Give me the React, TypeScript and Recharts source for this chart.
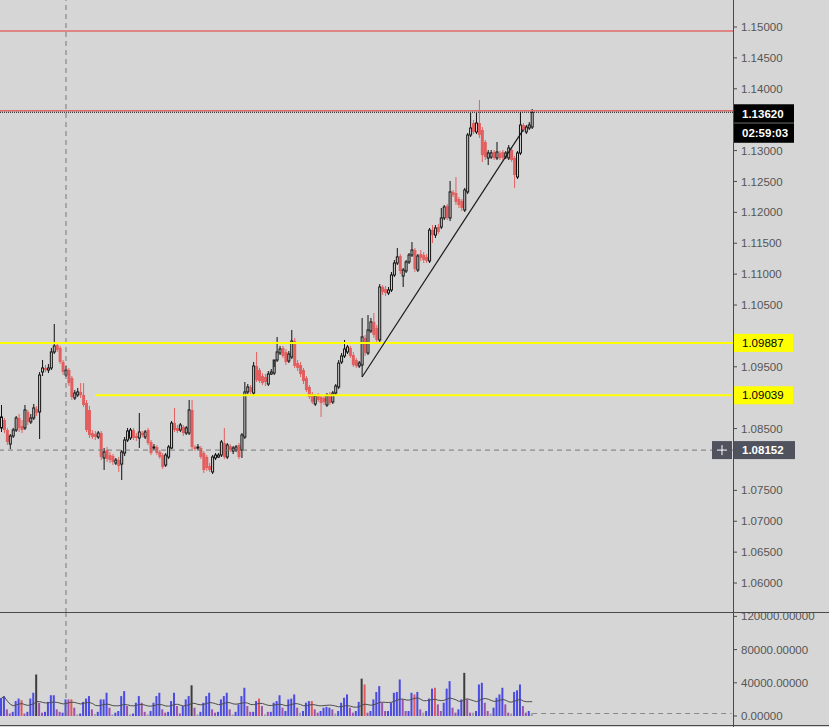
import React from 'react';
import { ComposedChart, Bar, Line, XAxis, YAxis, ReferenceLine, Cell } from 'recharts';

const FONT = '"Liberation Sans", Arial, sans-serif';
const BG = '#d6d6d6';
const UP = '#111111';
const DOWN = '#e35f5f';
const AXIS = '#4a4a4a';

// ---- candle data (4H bars) ----
const opens = [
  1.08510, 1.08639, 1.08477, 1.08250, 1.08380, 1.08477, 1.08672, 1.08542, 1.08510, 1.08769,
  1.08607, 1.08672, 1.08817, 1.08769, 1.09416, 1.09481, 1.09448, 1.09481, 1.09740, 1.09853,
  1.09805, 1.09578, 1.09367, 1.09448, 1.09319, 1.08996, 1.09044, 1.09093, 1.09044, 1.08914,
  1.08801, 1.08428, 1.08412, 1.08364, 1.08428, 1.08024, 1.08153, 1.08072, 1.08056, 1.07942,
  1.07991, 1.07926, 1.08104, 1.08315, 1.08348, 1.08477, 1.08380, 1.08348, 1.08428, 1.08364,
  1.08477, 1.08283, 1.08186, 1.08202, 1.08121, 1.08072, 1.07910, 1.08040, 1.08186, 1.08590,
  1.08510, 1.08477, 1.08526, 1.08428, 1.08428, 1.08801, 1.08202, 1.08186, 1.08186, 1.08104,
  1.08040, 1.07894, 1.07798, 1.08024, 1.08040, 1.08072, 1.08266, 1.08040, 1.08218, 1.08137,
  1.08153, 1.08234, 1.08153, 1.08364, 1.09093, 1.09173, 1.09076, 1.09513, 1.09448, 1.09351,
  1.09335, 1.09221, 1.09383, 1.09399, 1.09610, 1.09723, 1.09805, 1.09740, 1.09594, 1.09659,
  1.09918, 1.09561, 1.09529, 1.09448, 1.09319, 1.09173, 1.09060, 1.08898, 1.09044, 1.09012,
  1.08996, 1.08882, 1.09060, 1.08931, 1.09076, 1.09173, 1.09578, 1.09675, 1.09740, 1.09805,
  1.09691, 1.09610, 1.09513, 1.09529, 1.09967, 1.09723, 1.10080, 1.10226, 1.10129, 1.09934,
  1.10792, 1.10759, 1.10694, 1.10743, 1.10986, 1.11180, 1.11294, 1.10970, 1.11051, 1.11197,
  1.11310, 1.11391, 1.11067, 1.11326, 1.11310, 1.11278, 1.11213, 1.11714, 1.11633, 1.11763,
  1.11763, 1.11909, 1.12103, 1.11909, 1.12330, 1.12313, 1.12216, 1.12184, 1.12038, 1.12330,
  1.13252, 1.13446, 1.13301, 1.13446, 1.13333, 1.13139, 1.12880, 1.12896, 1.12977, 1.12880,
  1.12961, 1.12977, 1.12896, 1.12880, 1.13009, 1.12880, 1.12572, 1.12961, 1.13414, 1.13301,
  1.13365, 1.13381,
];
const highs = [
  1.08882, 1.08672, 1.08510, 1.08412, 1.08510, 1.08704, 1.08736, 1.08639, 1.08882, 1.08801,
  1.08736, 1.08898, 1.08866, 1.09416, 1.09610, 1.09529, 1.09545, 1.09805, 1.10193, 1.09902,
  1.09837, 1.09610, 1.09513, 1.09481, 1.09351, 1.09125, 1.09157, 1.09237, 1.09237, 1.08963,
  1.08866, 1.08477, 1.08461, 1.08461, 1.08461, 1.08186, 1.08202, 1.08121, 1.08088, 1.08024,
  1.08040, 1.08153, 1.08364, 1.08510, 1.08510, 1.08510, 1.08428, 1.08752, 1.08461, 1.08477,
  1.08510, 1.08315, 1.08250, 1.08234, 1.08153, 1.08104, 1.08104, 1.08234, 1.08623, 1.08834,
  1.08558, 1.08590, 1.08558, 1.08542, 1.08963, 1.08963, 1.08234, 1.08250, 1.08218, 1.08137,
  1.08072, 1.07942, 1.08072, 1.08104, 1.08104, 1.08315, 1.08510, 1.08266, 1.08250, 1.08218,
  1.08234, 1.08266, 1.08428, 1.09254, 1.09221, 1.09205, 1.09578, 1.09740, 1.09481, 1.09399,
  1.09383, 1.09432, 1.09464, 1.09497, 1.09983, 1.09837, 1.09837, 1.09788, 1.09756, 1.10096,
  1.09967, 1.09610, 1.09578, 1.09481, 1.09351, 1.09205, 1.09093, 1.09060, 1.09076, 1.09044,
  1.09028, 1.09076, 1.09093, 1.09109, 1.09221, 1.09610, 1.09723, 1.09934, 1.09853, 1.09837,
  1.09740, 1.09643, 1.09594, 1.10290, 1.10015, 1.10338, 1.10290, 1.10370, 1.10177, 1.10840,
  1.10824, 1.10808, 1.10792, 1.11035, 1.11229, 1.11423, 1.11326, 1.11100, 1.11229, 1.11342,
  1.11520, 1.11423, 1.11326, 1.11391, 1.11359, 1.11326, 1.11747, 1.11795, 1.11795, 1.11811,
  1.12071, 1.12119, 1.12135, 1.12508, 1.12362, 1.12572, 1.12249, 1.12216, 1.12395, 1.13284,
  1.13608, 1.13495, 1.13608, 1.13818, 1.13381, 1.13171, 1.13009, 1.13009, 1.13009, 1.13139,
  1.12993, 1.13009, 1.12993, 1.13090, 1.13042, 1.12912, 1.12993, 1.13624, 1.13446, 1.13414,
  1.13462, 1.13673,
];
const lows = [
  1.08445, 1.08428, 1.08234, 1.08169, 1.08348, 1.08445, 1.08445, 1.08428, 1.08477, 1.08558,
  1.08574, 1.08639, 1.08704, 1.08331, 1.09351, 1.09416, 1.09399, 1.09448, 1.09707, 1.09740,
  1.09545, 1.09367, 1.09335, 1.09189, 1.08963, 1.08963, 1.09012, 1.08996, 1.08850, 1.08445,
  1.08348, 1.08331, 1.08315, 1.08331, 1.07991, 1.07830, 1.07959, 1.07942, 1.07910, 1.07910,
  1.07798, 1.07668, 1.08056, 1.08283, 1.08315, 1.08315, 1.08299, 1.08186, 1.08364, 1.08331,
  1.08234, 1.08072, 1.08153, 1.08072, 1.08007, 1.07845, 1.07878, 1.08007, 1.08169, 1.08445,
  1.08428, 1.08445, 1.08380, 1.08396, 1.08396, 1.08169, 1.08137, 1.08153, 1.08007, 1.07781,
  1.07814, 1.07798, 1.07765, 1.07991, 1.08024, 1.08040, 1.08007, 1.08007, 1.08121, 1.08088,
  1.08121, 1.08007, 1.08024, 1.08331, 1.09060, 1.09060, 1.09044, 1.09254, 1.09237, 1.09205,
  1.09189, 1.09189, 1.09367, 1.09367, 1.09578, 1.09691, 1.09643, 1.09529, 1.09561, 1.09626,
  1.09481, 1.09432, 1.09335, 1.09221, 1.09093, 1.08979, 1.08898, 1.08866, 1.08931, 1.08688,
  1.08882, 1.08850, 1.08882, 1.08898, 1.09044, 1.09140, 1.09545, 1.09643, 1.09707, 1.09643,
  1.09497, 1.09481, 1.09481, 1.09335, 1.09675, 1.09691, 1.10047, 1.09967, 1.09902, 1.09902,
  1.10662, 1.10646, 1.10662, 1.10711, 1.10954, 1.11148, 1.11002, 1.10792, 1.11018, 1.11164,
  1.11278, 1.11035, 1.11035, 1.11213, 1.11180, 1.11180, 1.11180, 1.11503, 1.11585, 1.11649,
  1.11730, 1.11876, 1.11876, 1.11860, 1.12249, 1.12119, 1.12071, 1.12022, 1.12006, 1.12297,
  1.13220, 1.13268, 1.13268, 1.13203, 1.12815, 1.12847, 1.12766, 1.12863, 1.12847, 1.12847,
  1.12847, 1.12847, 1.12863, 1.12847, 1.12815, 1.12395, 1.12539, 1.12928, 1.13301, 1.13268,
  1.13333, 1.13349,
];
const closes = [
  1.08688, 1.08477, 1.08283, 1.08380, 1.08477, 1.08672, 1.08510, 1.08477, 1.08801, 1.08607,
  1.08672, 1.08834, 1.08752, 1.09367, 1.09481, 1.09448, 1.09481, 1.09740, 1.09837, 1.09772,
  1.09578, 1.09416, 1.09448, 1.09237, 1.09012, 1.09076, 1.09093, 1.09044, 1.08882, 1.08477,
  1.08396, 1.08364, 1.08364, 1.08428, 1.08040, 1.08121, 1.08007, 1.07991, 1.07959, 1.07991,
  1.07894, 1.08121, 1.08315, 1.08461, 1.08477, 1.08348, 1.08348, 1.08445, 1.08396, 1.08445,
  1.08266, 1.08104, 1.08202, 1.08104, 1.08040, 1.07878, 1.08072, 1.08202, 1.08590, 1.08477,
  1.08461, 1.08558, 1.08428, 1.08510, 1.08801, 1.08202, 1.08169, 1.08202, 1.08040, 1.07830,
  1.07862, 1.07830, 1.08040, 1.08072, 1.08072, 1.08283, 1.08040, 1.08234, 1.08153, 1.08186,
  1.08202, 1.08040, 1.08396, 1.09093, 1.09173, 1.09093, 1.09513, 1.09286, 1.09270, 1.09237,
  1.09254, 1.09383, 1.09416, 1.09610, 1.09740, 1.09788, 1.09675, 1.09578, 1.09707, 1.09918,
  1.09513, 1.09481, 1.09383, 1.09270, 1.09125, 1.09012, 1.08931, 1.09028, 1.08963, 1.08914,
  1.08931, 1.09044, 1.08914, 1.09076, 1.09189, 1.09561, 1.09675, 1.09788, 1.09821, 1.09675,
  1.09529, 1.09513, 1.09561, 1.09983, 1.09723, 1.10096, 1.10226, 1.10015, 1.09934, 1.10792,
  1.10711, 1.10694, 1.10743, 1.10986, 1.11180, 1.11278, 1.11051, 1.11067, 1.11197, 1.11310,
  1.11391, 1.11083, 1.11294, 1.11262, 1.11229, 1.11213, 1.11714, 1.11633, 1.11747, 1.11682,
  1.11909, 1.12087, 1.11909, 1.12330, 1.12281, 1.12168, 1.12119, 1.12071, 1.12362, 1.13252,
  1.13365, 1.13301, 1.13446, 1.13252, 1.12928, 1.12896, 1.12961, 1.12961, 1.12880, 1.12977,
  1.12880, 1.12880, 1.12961, 1.13042, 1.12847, 1.12604, 1.12961, 1.13414, 1.13333, 1.13381,
  1.13414, 1.13620,
];

// ---- volume data ----
const volumes = [
  21800, 24000, 8000, 3000, 5000, 18000, 21000, 19000, 3000, 5000,
  21000, 28000, 50000, 16000, 4000, 5000, 17000, 25000, 25000, 8000,
  5000, 4000, 20000, 20000, 20000, 10000, 2000, 3000, 17000, 21000,
  24000, 8000, 2500, 5000, 20000, 20000, 28000, 10000, 2000, 4000,
  6000, 24000, 30000, 12000, 2000, 3000, 16000, 24000, 16000, 5000,
  2000, 6000, 16000, 24000, 28000, 8000, 4000, 5000, 18000, 28000,
  12000, 3000, 12000, 20000, 24000, 37000, 10000, 2000, 5000, 16000,
  24000, 28000, 8000, 4000, 5000, 20000, 24000, 28000, 8000, 2000,
  5000, 14000, 24000, 34000, 12000, 5000, 5000, 18000, 21000, 12000,
  2000, 5000, 5000, 16000, 18000, 25000, 10000, 6000, 20000, 21000,
  26000, 10000, 4000, 6000, 16000, 18000, 18000, 8000, 4000, 6000,
  10000, 11000, 10000, 8000, 3000, 6000, 16000, 22000, 26000, 10000,
  4000, 6000, 17000, 45000, 38000, 4000, 6000, 20000, 29000, 36000,
  16000, 6000, 6000, 16000, 28000, 29000, 44000, 20000, 6000, 6000,
  28000, 26000, 29000, 8000, 4000, 6000, 21000, 33000, 34000, 14000,
  6000, 16000, 33000, 42000, 10000, 4000, 8000, 20000, 52000, 20000,
  4000, 4000, 6000, 38000, 40000, 16000, 6000, 3000, 10000, 22000,
  26000, 34000, 14000, 4000, 3000, 29000, 31000, 38000, 12000, 4000,
  6000, 3000,
];
// b = blue, p = purple, r = red, g = gray, k = dark
const volumeKinds = (
  'bbppbbbrpb' + 'bbkppbbbbp' + 'pbbprpgbbb' + 'bpgbbbbpgb' + 'bbbpgbbbpp' +
  'gbbbbppbbb' + 'ppbbbkpgbb' + 'bbppbbbbpg' + 'bbbbppbbrp' + 'gpbbbbpbbb' +
  'bpgbbbrppb' + 'bbbpgbbbbp' + 'pbbkrpbbbb' + 'ppbbbbbppb' + 'brbpgbbbrp' +
  'pbbbppbbkp' + 'pgbbbppgbb' + 'bbppgbbbpp' + 'bg'
).split('');
const KIND_COLORS: Record<string, string> = {
  b: '#4b4be2',
  p: '#9a52ac',
  r: '#e25858',
  g: '#9c9c9c',
  k: '#3c3c3c',
};

// ---- levels, labels, ticks ----
const CURRENT_PRICE = 1.1362;
const COUNTDOWN = '02:59:03';
const resistanceHigh = 1.14935;
const resistanceMid = 1.13645;
const supportUpper = 1.09887;
const supportLower = 1.09039;
const supportLowerStart = 32;
const crosshairPrice = 1.08152;
const crosshairIndex = 22;
const trendStart = { index: 123, price: 1.09335 };
const trendEnd = { index: 178, price: 1.1334 };
const SLOT_COUNT = 250;
const MA_LENGTH = 20;
const priceDomain = [1.05515, 1.15761];
const priceTicks = [1.06, 1.065, 1.07, 1.075, 1.085, 1.095, 1.105, 1.11, 1.115, 1.12, 1.125, 1.13, 1.14, 1.145, 1.15, 1.155];
const volumeDomain = [0, 124096];
const volumeTicks = [0, 40000, 80000, 120000];

const data = Array.from({ length: SLOT_COUNT }, (_, i) => {
  if (i >= opens.length) return { i } as any;
  const start = Math.max(0, i - MA_LENGTH + 1);
  const win = volumes.slice(start, i + 1);
  const ma = win.reduce((a, b) => a + b, 0) / win.length;
  return {
    i,
    o: opens[i],
    h: highs[i],
    l: lows[i],
    c: closes[i],
    range: [lows[i], highs[i]],
    v: volumes[i],
    kind: volumeKinds[i],
    ma,
  };
});

function Candle(props: any) {
  const { x, y, width, height, payload } = props;
  if (!payload || payload.o == null || x == null || y == null) return null;
  const top = height >= 0 ? y : y + height;
  const hgt = Math.abs(height || 0);
  const span = payload.h - payload.l;
  const k = span > 0 ? hgt / span : 0;
  const cx = x + width / 2;
  const yO = top + (payload.h - payload.o) * k;
  const yC = top + (payload.h - payload.c) * k;
  const bottom = top + hgt;
  const bt = Math.min(yO, yC);
  const bb = Math.max(yO, yC);
  if (payload.c >= payload.o) {
    const bh = Math.max(bb - bt, 0.8);
    return (
      <g>
        <line x1={cx} x2={cx} y1={top} y2={bt} stroke={UP} strokeWidth={1} />
        <line x1={cx} x2={cx} y1={bt + bh} y2={bottom} stroke={UP} strokeWidth={1} />
        <rect x={cx - 1} y={bt} width={2} height={bh} fill="none" stroke={UP} strokeWidth={1} />
      </g>
    );
  }
  const bh = Math.max(bb - bt, 1);
  return (
    <g>
      <line x1={cx} x2={cx} y1={top} y2={bottom} stroke={DOWN} strokeWidth={1} />
      <rect x={cx - 1.5} y={bt} width={3} height={bh} fill={DOWN} />
    </g>
  );
}

function CurrentPriceTag(props: any) {
  const vb = props.viewBox;
  if (!vb) return null;
  const x = vb.x + vb.width;
  const y = vb.y;
  return (
    <g>
      <rect x={x} y={y - 8} width={61} height={18.5} fill="#000" />
      <text x={x + 9} y={y + 5.3} fill="#fff" fontSize={11.5} fontWeight="bold" fontFamily={FONT}>
        {CURRENT_PRICE.toFixed(5)}
      </text>
      <rect x={x} y={y + 11} width={61} height={19.5} fill="#000" />
      <text x={x + 9} y={y + 24.8} fill="#fff" fontSize={11.5} fontWeight="bold" fontFamily={FONT}>
        {COUNTDOWN}
      </text>
    </g>
  );
}

function makeYellowTag(value: number) {
  return (props: any) => {
    const vb = props.viewBox;
    if (!vb) return null;
    const x = vb.x + vb.width;
    const y = vb.y;
    return (
      <g>
        <rect x={x} y={y - 9} width={60} height={18} fill="#ffff00" />
        <text x={x + 9} y={y + 4.2} fill="#000" fontSize={11.5} fontFamily={FONT}>
          {value.toFixed(5)}
        </text>
      </g>
    );
  };
}

function CrosshairTag(props: any) {
  const vb = props.viewBox;
  if (!vb) return null;
  const x = vb.x + vb.width;
  const y = vb.y;
  return (
    <g>
      <rect x={x - 21} y={y - 9} width={20} height={18} fill="#50535e" />
      <line x1={x - 16} x2={x - 6} y1={y} y2={y} stroke="#fff" strokeWidth={1} />
      <line x1={x - 11} x2={x - 11} y1={y - 5} y2={y + 5} stroke="#fff" strokeWidth={1} />
      <rect x={x + 1} y={y - 9} width={61} height={18} fill="#50535e" />
      <text x={x + 9} y={y + 4.2} fill="#fff" fontSize={11.5} fontWeight="bold" fontFamily={FONT}>
        {crosshairPrice.toFixed(5)}
      </text>
    </g>
  );
}

const tickStyle = { fill: '#555', fontSize: 11.5, fontFamily: FONT };

export default function App() {
  const lastIndex = SLOT_COUNT - 1;
  const lastVolume = volumes[volumes.length - 1];
  return (
    <div
      style={{
        position: 'absolute',
        left: 0,
        top: 0,
        width: 829,
        height: 727,
        background: BG,
        overflow: 'hidden',
        fontFamily: FONT,
      }}
    >
      <div style={{ position: 'absolute', left: 0, top: -20 }}>
        <ComposedChart
          width={829}
          height={633}
          data={data}
          margin={{ top: 0, right: 0, bottom: 0, left: 0 }}
          barCategoryGap={0}
          barGap={0}
        >
          <XAxis dataKey="i" hide />
          <YAxis
            orientation="right"
            width={96}
            type="number"
            domain={priceDomain}
            allowDataOverflow
            ticks={priceTicks}
            interval={0}
            tickFormatter={(v: number) => v.toFixed(5)}
            axisLine={false}
            tickLine={{ stroke: AXIS }}
            tickSize={4}
            tickMargin={4}
            tick={tickStyle}
          />
          <Bar dataKey="range" shape={<Candle />} isAnimationActive={false} />
          <ReferenceLine x={crosshairIndex} stroke="#777" strokeDasharray="5 4" strokeWidth={1} />
          <ReferenceLine y={crosshairPrice} stroke="#777" strokeDasharray="5 4" strokeWidth={1} label={CrosshairTag} />
          <ReferenceLine y={resistanceHigh} stroke="#e06a6a" strokeWidth={1.5} />
          <ReferenceLine y={resistanceMid} stroke="#e06a6a" strokeWidth={1.5} />
          <ReferenceLine y={supportUpper} stroke="#ffff00" strokeWidth={2} label={makeYellowTag(supportUpper)} />
          <ReferenceLine
            segment={[
              { x: supportLowerStart, y: supportLower },
              { x: lastIndex, y: supportLower },
            ]}
            stroke="#ffff00"
            strokeWidth={2}
          />
          <ReferenceLine y={supportLower} stroke="none" label={makeYellowTag(supportLower)} />
          <ReferenceLine
            segment={[
              { x: trendStart.index, y: trendStart.price },
              { x: trendEnd.index, y: trendEnd.price },
            ]}
            stroke="#1a1a1a"
            strokeWidth={1.2}
          />
          <ReferenceLine y={CURRENT_PRICE} stroke="#111" strokeDasharray="1 1" strokeWidth={1} label={CurrentPriceTag} />
        </ComposedChart>
      </div>

      <div style={{ position: 'absolute', left: 0, top: 613 }}>
        <ComposedChart
          width={829}
          height={114}
          data={data}
          margin={{ top: 0, right: 0, bottom: 11, left: 0 }}
          barCategoryGap={0}
          barGap={0}
        >
          <XAxis dataKey="i" hide />
          <YAxis
            orientation="right"
            width={96}
            type="number"
            domain={volumeDomain}
            allowDataOverflow
            ticks={volumeTicks}
            interval={0}
            tickFormatter={(v: number) => v.toFixed(5)}
            axisLine={false}
            tickLine={{ stroke: AXIS }}
            tickSize={4}
            tickMargin={4}
            tick={tickStyle}
          />
          <ReferenceLine x={crosshairIndex} stroke="#777" strokeDasharray="5 4" strokeWidth={1} />
          <Bar dataKey="v" barSize={2} isAnimationActive={false}>
            {data.map((d: any, idx: number) => (
              <Cell key={idx} fill={d.kind ? KIND_COLORS[d.kind] : 'transparent'} />
            ))}
          </Bar>
          <Line dataKey="ma" stroke="#4d4d4d" strokeWidth={1} dot={false} isAnimationActive={false} />
          <ReferenceLine
            segment={[
              { x: opens.length - 1, y: lastVolume },
              { x: lastIndex, y: lastVolume },
            ]}
            stroke="#888"
            strokeDasharray="5 4"
          />
        </ComposedChart>
      </div>

      <div style={{ position: 'absolute', left: 0, top: 612, width: 829, height: 1, background: AXIS }} />
      <div style={{ position: 'absolute', left: 0, top: 725, width: 829, height: 1, background: AXIS }} />
      <div style={{ position: 'absolute', left: 733, top: 0, width: 1, height: 727, background: AXIS }} />
    </div>
  );
}
